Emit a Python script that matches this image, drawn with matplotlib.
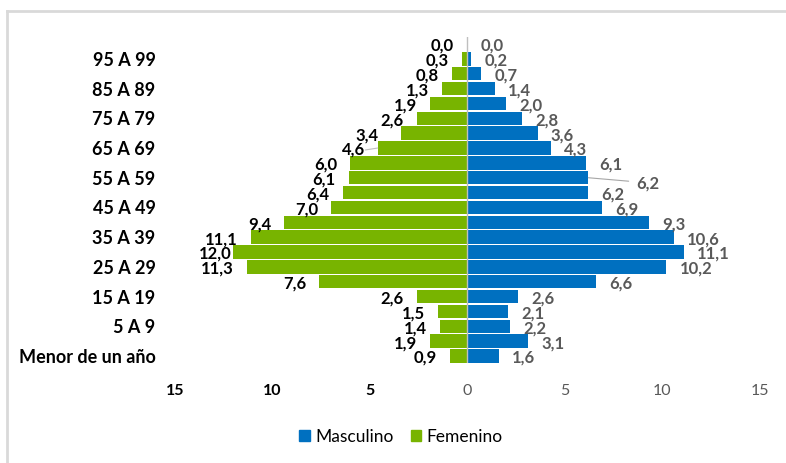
import numpy as np
import matplotlib.pyplot as plt
from matplotlib.lines import Line2D
from matplotlib.patches import Patch

plt.rcParams['font.family'] = ['Lato', 'DejaVu Sans']

# grupos de edad, de abajo hacia arriba
grupos = ['Menor de un año', '1 A 4', '5 A 9', '10 A 14', '15 A 19', '20 A 24',
          '25 A 29', '30 A 34', '35 A 39', '40 A 44', '45 A 49', '50 A 54',
          '55 A 59', '60 A 64', '65 A 69', '70 A 74', '75 A 79', '80 A 84',
          '85 A 89', '90 A 94', '95 A 99', '100 y más']
femenino = [0.9, 1.9, 1.4, 1.5, 2.6, 7.6, 11.3, 12.0, 11.1, 9.4, 7.0, 6.4,
            6.1, 6.0, 4.6, 3.4, 2.6, 1.9, 1.3, 0.8, 0.3, 0.03]
masculino = [1.6, 3.1, 2.2, 2.1, 2.6, 6.6, 10.2, 11.1, 10.6, 9.3, 6.9, 6.2,
             6.2, 6.1, 4.3, 3.6, 2.8, 2.0, 1.4, 0.7, 0.2, 0.01]
ticks_x = [-15, -10, -5, 0, 5, 10, 15]

verde = '#78B400'
azul = '#0070C0'

fig = plt.figure(figsize=(7.86, 4.63), dpi=100)
ax = fig.add_axes([0.2226, 0.2151, 0.7443, 0.7058])

y = np.arange(len(grupos))
ax.barh(y, [-v for v in femenino], height=0.9, color=verde, zorder=2)
ax.barh(y, masculino, height=0.9, color=azul, zorder=2)
ax.axvline(0, color='#BFBFBF', lw=1, zorder=3)

ax.set_xlim(-15, 15)
ax.set_ylim(-0.5, len(grupos) - 0.5)

def fmt(v):
    return f'{v:.1f}'.replace('.', ',')

# ajustes de etiquetas movidas a mano (en puntos)
desp_fem = {7: (8, 0.3), 15: (-7, 0)}
desp_mas = {12: (25, -3)}

for i, v in enumerate(femenino):
    dx, dy = desp_fem.get(i, (0, 0))
    ax.annotate(fmt(v), (-v, i), xytext=(-9.4 + dx, -1.4 + dy), textcoords='offset points',
                ha='right', va='center', fontsize=12, fontweight='bold', color='black')
for i, v in enumerate(masculino):
    dx, dy = desp_mas.get(i, (0, 0))
    ax.annotate(fmt(v), (v, i), xytext=(9.4 + dx, -1.4 + dy), textcoords='offset points',
                ha='left', va='center', fontsize=12, fontweight='bold', color='#595959')

# lineas guia de etiquetas desplazadas
ax.annotate('', (masculino[12], 12), xytext=(29, -2.5), textcoords='offset points',
            arrowprops=dict(arrowstyle='-', color='#A6A6A6', lw=0.8, shrinkA=0, shrinkB=0))
ax.annotate('', (-femenino[14], 14), xytext=(-9, -1.4), textcoords='offset points',
            arrowprops=dict(arrowstyle='-', color='#BFBFBF', lw=0.8, shrinkA=0, shrinkB=0))

ax.set_yticks(y[::2])
ax.set_yticklabels(grupos[::2], fontsize=13, fontweight='bold')
ax.set_xticks(ticks_x)
ax.set_xticklabels([str(abs(t)) for t in ticks_x], fontsize=11.5)
for t, lab in zip(ticks_x, ax.get_xticklabels()):
    if t < 0:
        lab.set_fontweight('bold')
        lab.set_color('black')
    else:
        lab.set_color('#595959')
ax.tick_params(axis='both', length=0)
ax.tick_params(axis='y', pad=14)
ax.tick_params(axis='x', pad=15)
for s in ax.spines.values():
    s.set_visible(False)

handles = [Patch(color=azul, label='Masculino'), Patch(color=verde, label='Femenino')]
fig.legend(handles=handles, loc='center', bbox_to_anchor=(0.51, 0.056), ncol=2,
           frameon=False, fontsize=12.5, handlelength=0.6, handleheight=0.6,
           handletextpad=0.3, columnspacing=1.0)

# marco gris del grafico
yb = 1 - 11 / 463
xb = 7 / 786
fig.add_artist(Line2D([xb, xb], [0, yb], color='#D9D9D9', lw=2))
fig.add_artist(Line2D([xb, 1], [yb, yb], color='#D9D9D9', lw=2))

fig.savefig('out.png', dpi=100)
